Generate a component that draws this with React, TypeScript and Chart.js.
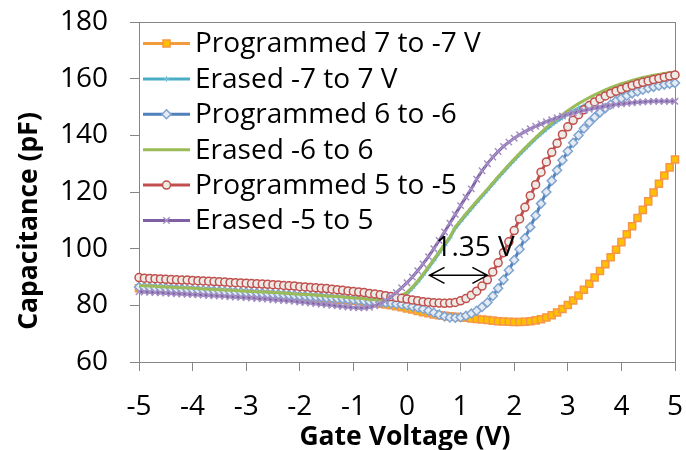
import React, { useEffect, useRef } from 'react';
import { Chart, registerables } from 'chart.js';
import { drawPoint } from 'chart.js/helpers';

Chart.register(...registerables);

// Gate voltage sweep (V)
const VOLTAGE: number[] = [
  -5.0, -4.9, -4.8, -4.7, -4.6, -4.5, -4.4, -4.3, -4.2, -4.1,
  -4.0, -3.9, -3.8, -3.7, -3.6, -3.5, -3.4, -3.3, -3.2, -3.1,
  -3.0, -2.9, -2.8, -2.7, -2.6, -2.5, -2.4, -2.3, -2.2, -2.1,
  -2.0, -1.9, -1.8, -1.7, -1.6, -1.5, -1.4, -1.3, -1.2, -1.1,
  -1.0, -0.9, -0.8, -0.7, -0.6, -0.5, -0.4, -0.3, -0.2, -0.1,
  0.0, 0.1, 0.2, 0.3, 0.4, 0.5, 0.6, 0.7, 0.8, 0.9,
  1.0, 1.1, 1.2, 1.3, 1.4, 1.5, 1.6, 1.7, 1.8, 1.9,
  2.0, 2.1, 2.2, 2.3, 2.4, 2.5, 2.6, 2.7, 2.8, 2.9,
  3.0, 3.1, 3.2, 3.3, 3.4, 3.5, 3.6, 3.7, 3.8, 3.9,
  4.0, 4.1, 4.2, 4.3, 4.4, 4.5, 4.6, 4.7, 4.8, 4.9,
  5.0,
];

// Capacitance (pF)
const PROGRAMMED_7: number[] = [
  86.0, 85.9, 85.8, 85.7, 85.6, 85.5, 85.4, 85.3, 85.2, 85.1,
  85.0, 84.9, 84.8, 84.7, 84.6, 84.5, 84.4, 84.3, 84.2, 84.1,
  84.0, 83.9, 83.8, 83.7, 83.6, 83.5, 83.4, 83.3, 83.2, 83.0,
  82.9, 82.8, 82.7, 82.6, 82.4, 82.3, 82.2, 82.0, 81.9, 81.7,
  81.6, 81.4, 81.2, 81.0, 80.8, 80.6, 80.3, 80.0, 79.7, 79.3,
  78.9, 78.5, 78.0, 77.6, 77.2, 76.8, 76.5, 76.3, 76.1, 76.0,
  75.8, 75.6, 75.4, 75.2, 75.0, 74.8, 74.6, 74.4, 74.3, 74.2,
  74.1, 74.1, 74.2, 74.4, 74.7, 75.1, 75.7, 76.5, 77.5, 78.7,
  80.1, 81.7, 83.5, 85.5, 87.6, 89.8, 92.1, 94.5, 97.0, 99.6,
  102.3, 105.1, 107.9, 110.8, 113.7, 116.7, 119.8, 122.9, 125.8, 128.7,
  131.5,
];

const ERASED_7: number[] = [
  86.6, 86.5, 86.4, 86.3, 86.2, 86.1, 86.0, 85.9, 85.8, 85.7,
  85.6, 85.5, 85.4, 85.3, 85.2, 85.1, 85.0, 84.9, 84.8, 84.7,
  84.6, 84.5, 84.4, 84.3, 84.2, 84.1, 84.0, 83.9, 83.8, 83.6,
  83.5, 83.4, 83.3, 83.2, 83.1, 82.9, 82.8, 82.7, 82.5, 82.4,
  82.2, 82.1, 81.9, 81.8, 81.7, 81.6, 81.6, 81.8, 82.3, 83.1,
  84.2, 86.0, 88.2, 90.6, 93.2, 95.8, 98.5, 101.1, 103.8, 107.2,
  109.6, 111.9, 114.1, 116.3, 118.5, 120.6, 122.8, 125.0, 127.1, 129.2,
  131.2, 133.2, 135.1, 137.0, 138.8, 140.5, 142.1, 143.6, 145.0, 146.3,
  147.5, 148.6, 149.6, 150.5, 151.3, 152.0, 152.7, 153.3, 153.9, 154.4,
  154.9, 155.3, 155.7, 156.1, 156.4, 156.7, 157.0, 157.2, 157.4, 157.6,
  157.8,
];

const PROGRAMMED_6: number[] = [
  86.5, 86.4, 86.3, 86.2, 86.1, 86.0, 85.9, 85.8, 85.7, 85.6,
  85.5, 85.4, 85.3, 85.2, 85.1, 85.0, 84.9, 84.8, 84.7, 84.6,
  84.5, 84.4, 84.3, 84.2, 84.1, 84.0, 83.9, 83.7, 83.6, 83.5,
  83.4, 83.3, 83.1, 83.0, 82.9, 82.7, 82.6, 82.4, 82.3, 82.1,
  82.0, 81.8, 81.6, 81.4, 81.3, 81.1, 80.9, 80.7, 80.5, 80.3,
  80.0, 79.6, 79.2, 78.7, 78.1, 77.4, 76.7, 76.1, 75.7, 75.6,
  75.8, 76.3, 77.1, 78.1, 79.4, 81.0, 83.3, 86.0, 89.0, 92.4,
  96.0, 99.8, 103.7, 107.6, 111.7, 115.9, 120.0, 124.0, 127.7, 131.2,
  134.4, 137.4, 140.0, 142.4, 144.5, 146.4, 148.1, 149.6, 150.9, 152.1,
  153.1, 154.0, 154.8, 155.5, 156.1, 156.6, 157.1, 157.5, 157.9, 158.2,
  158.5,
];

const ERASED_6: number[] = [
  87.0, 86.9, 86.8, 86.7, 86.6, 86.5, 86.4, 86.3, 86.2, 86.1,
  86.0, 85.9, 85.8, 85.7, 85.6, 85.5, 85.4, 85.3, 85.2, 85.1,
  85.0, 84.9, 84.8, 84.7, 84.6, 84.5, 84.4, 84.3, 84.2, 84.0,
  83.9, 83.8, 83.7, 83.6, 83.5, 83.3, 83.2, 83.1, 82.9, 82.8,
  82.6, 82.5, 82.3, 82.1, 82.0, 81.9, 81.9, 82.1, 82.6, 83.4,
  84.6, 86.4, 88.6, 91.0, 93.6, 96.2, 98.9, 101.5, 104.1, 107.6,
  110.0, 112.3, 114.5, 116.7, 118.9, 121.0, 123.2, 125.4, 127.5, 129.6,
  131.6, 133.6, 135.5, 137.4, 139.2, 141.0, 142.7, 144.3, 145.9, 147.3,
  148.7, 150.0, 151.2, 152.3, 153.3, 154.3, 155.2, 156.0, 156.8, 157.5,
  158.2, 158.8, 159.4, 159.9, 160.4, 160.8, 161.2, 161.5, 161.8, 162.1,
  162.3,
];

const PROGRAMMED_5: number[] = [
  89.8, 89.6, 89.5, 89.4, 89.3, 89.2, 89.1, 89.0, 88.9, 88.9,
  88.8, 88.7, 88.6, 88.5, 88.4, 88.3, 88.2, 88.1, 88.0, 87.9,
  87.8, 87.7, 87.6, 87.5, 87.4, 87.3, 87.2, 87.0, 86.9, 86.8,
  86.6, 86.5, 86.3, 86.2, 86.0, 85.9, 85.7, 85.5, 85.3, 85.1,
  84.9, 84.7, 84.5, 84.2, 84.0, 83.7, 83.4, 83.1, 82.8, 82.5,
  82.2, 81.9, 81.6, 81.3, 81.1, 80.9, 80.8, 80.7, 80.8, 81.0,
  81.6, 82.4, 83.6, 85.0, 86.8, 89.0, 91.8, 95.0, 98.6, 102.4,
  106.4, 110.5, 114.6, 118.7, 122.6, 127.0, 130.6, 134.0, 137.2, 140.3,
  143.0, 145.3, 147.3, 149.0, 150.5, 151.8, 152.9, 153.9, 154.8, 155.6,
  156.3, 157.0, 157.6, 158.2, 158.7, 159.2, 159.7, 160.1, 160.5, 160.9,
  161.3,
];

const ERASED_5: number[] = [
  84.8, 84.7, 84.6, 84.5, 84.4, 84.3, 84.2, 84.1, 84.0, 83.9,
  83.8, 83.7, 83.6, 83.5, 83.4, 83.3, 83.2, 83.0, 82.9, 82.8,
  82.7, 82.6, 82.4, 82.3, 82.2, 82.0, 81.9, 81.7, 81.6, 81.4,
  81.2, 81.0, 80.8, 80.6, 80.4, 80.2, 80.0, 79.8, 79.6, 79.4,
  79.2, 79.1, 79.1, 79.3, 79.8, 80.6, 81.7, 83.0, 84.5, 86.2,
  88.0, 90.0, 92.2, 94.6, 97.2, 100.0, 102.9, 105.9, 109.0, 112.1,
  115.2, 118.2, 121.1, 124.5, 127.5, 130.0, 132.3, 134.3, 136.1, 137.6,
  139.0, 140.2, 141.3, 142.3, 143.2, 144.0, 144.8, 145.5, 146.2, 146.8,
  147.4, 147.9, 148.4, 148.8, 149.2, 149.6, 150.0, 150.3, 150.6, 150.9,
  151.1, 151.3, 151.5, 151.7, 151.8, 151.9, 152.0, 152.0, 152.0, 152.0,
  152.0,
];

const SERIES_LABELS: string[] = [
  'Programmed 7 to -7 V',
  'Erased -7 to 7 V',
  'Programmed 6 to -6',
  'Erased -6 to 6',
  'Programmed 5 to -5',
  'Erased -5 to 5',
];

const X_TITLE = 'Gate Voltage (V)';
const Y_TITLE = 'Capacitance (pF)';
const X_MIN = -5;
const X_MAX = 5;
const X_STEP = 1;
const Y_MIN = 60;
const Y_MAX = 180;
const Y_STEP = 20;

// annotation: threshold shift
const SHIFT_TEXT = '1.35 V';
const SHIFT_FROM_V = 0.42;
const SHIFT_TO_V = 1.5;
const SHIFT_AT_C = 90.6;
const SHIFT_TEXT_V = 1.27;
const SHIFT_TEXT_C = 100.4;

const FONT = '"Open Sans", "DejaVu Sans", sans-serif';
const TEXT_SIZE = 28;
const TITLE_SIZE = 26.5;
const AXIS_COLOR = '#868686';

const STYLES = [
  { line: '#F39A3C', bg: '#FFC000', border: '#F79646', style: 'rect', r: 5, bw: 1.5 },
  { line: '#4BACC6', bg: '#4BACC6', border: '#7CC3D6', style: 'cross', r: 3, bw: 1 },
  { line: '#4F81BD', bg: '#E4EBF3', border: '#7FA3CF', style: 'rectRot', r: 4.5, bw: 1.5 },
  { line: '#9BBB59', bg: '#9BBB59', border: '#9BBB59', style: 'circle', r: 0, bw: 0 },
  { line: '#C0504D', bg: '#EEEAE6', border: '#C0504D', style: 'circle', r: 4, bw: 1.5 },
  { line: '#7E60A3', bg: '#A590C6', border: '#A590C6', style: 'crossRot', r: 4.5, bw: 1.5 },
];

const decorPlugin = {
  id: 'decor',
  beforeDatasetsDraw(chart: any) {
    const { ctx, chartArea: a } = chart;
    ctx.save();
    ctx.strokeStyle = AXIS_COLOR;
    ctx.lineWidth = 1;
    ctx.strokeRect(Math.round(a.left) + 0.5, Math.round(a.top) + 0.5, Math.round(a.right - a.left), Math.round(a.bottom - a.top));
    ctx.restore();
  },
  afterDatasetsDraw(chart: any) {
    const { ctx, chartArea: a, scales } = chart;
    const xs = scales.x;
    const ys = scales.y;
    ctx.save();

    // Legend inside the plot area
    ctx.font = `${TEXT_SIZE}px ${FONT}`;
    ctx.textBaseline = 'middle';
    ctx.textAlign = 'left';
    chart.data.datasets.forEach((ds: any, i: number) => {
      const st = STYLES[i];
      const y = a.top + 21.5 + i * 35.4;
      const x0 = a.left + 4;
      const x1 = a.left + 51;
      ctx.strokeStyle = st.line;
      ctx.lineWidth = 3;
      ctx.beginPath();
      ctx.moveTo(x0, y);
      ctx.lineTo(x1, y);
      ctx.stroke();
      if (st.r > 0) {
        ctx.fillStyle = st.bg;
        ctx.strokeStyle = st.border;
        ctx.lineWidth = st.bw;
        drawPoint(ctx, { pointStyle: st.style, radius: st.r, borderWidth: st.bw, rotation: 0 } as any, (x0 + x1) / 2, y);
      }
      ctx.fillStyle = '#000';
      ctx.fillText(ds.label, a.left + 56, y + 1);
    });

    // Shift annotation (double-headed arrow)
    const ax0 = xs.getPixelForValue(SHIFT_FROM_V);
    const ax1 = xs.getPixelForValue(SHIFT_TO_V);
    const ay = ys.getPixelForValue(SHIFT_AT_C);
    ctx.strokeStyle = '#000';
    ctx.lineWidth = 1.5;
    ctx.beginPath();
    ctx.moveTo(ax0, ay);
    ctx.lineTo(ax1, ay);
    ctx.moveTo(ax0 + 15, ay - 8);
    ctx.lineTo(ax0, ay);
    ctx.lineTo(ax0 + 15, ay + 8);
    ctx.moveTo(ax1 - 15, ay - 8);
    ctx.lineTo(ax1, ay);
    ctx.lineTo(ax1 - 15, ay + 8);
    ctx.stroke();
    ctx.fillStyle = '#000';
    ctx.textAlign = 'center';
    ctx.fillText(SHIFT_TEXT, xs.getPixelForValue(SHIFT_TEXT_V), ys.getPixelForValue(SHIFT_TEXT_C));
    ctx.restore();
  },
  afterDraw(chart: any) {
    const { ctx, chartArea: a } = chart;
    ctx.save();
    ctx.fillStyle = '#000';
    ctx.font = `bold ${TITLE_SIZE}px ${FONT}`;
    ctx.textAlign = 'center';
    ctx.textBaseline = 'middle';
    ctx.fillText(X_TITLE, (a.left + a.right) / 2 - 2, 437);
    ctx.translate(29, (a.top + a.bottom) / 2 + 29);
    ctx.rotate(-Math.PI / 2);
    ctx.fillText(Y_TITLE, 0, 0);
    ctx.restore();
  },
};

export default function App() {
  const canvasRef = useRef<HTMLCanvasElement | null>(null);

  useEffect(() => {
    const canvas = canvasRef.current;
    if (!canvas) return;
    const seriesValues = [PROGRAMMED_7, ERASED_7, PROGRAMMED_6, ERASED_6, PROGRAMMED_5, ERASED_5];
    const datasets = seriesValues.map((vals, i) => {
      const st = STYLES[i];
      return {
        label: SERIES_LABELS[i],
        data: VOLTAGE.map((v, k) => ({ x: v, y: vals[k] })),
        borderColor: st.line,
        borderWidth: 3,
        backgroundColor: st.bg,
        pointStyle: st.style,
        pointRadius: st.r,
        pointBackgroundColor: st.bg,
        pointBorderColor: st.border,
        pointBorderWidth: st.bw,
        pointHoverRadius: st.r,
        tension: 0,
        fill: false,
        order: seriesValues.length - 1 - i,
        clip: 8,
      };
    });

    const chart = new Chart(canvas, {
      type: 'line',
      data: { datasets },
      plugins: [decorPlugin],
      options: {
        animation: false,
        responsive: false,
        devicePixelRatio: 1,
        layout: { padding: { top: 22, right: 11, left: 0, bottom: 0 } },
        plugins: { legend: { display: false }, tooltip: { enabled: false } },
        scales: {
          x: {
            type: 'linear',
            min: X_MIN,
            max: X_MAX,
            afterFit: (s: any) => { s.height = 88; s.paddingLeft = 0; s.paddingRight = 0; },
            ticks: { stepSize: X_STEP, color: '#000', font: { family: FONT, size: TEXT_SIZE }, padding: 19, maxRotation: 0, minRotation: 0 },
            grid: { drawOnChartArea: false, drawTicks: true, tickLength: 9, color: AXIS_COLOR },
            border: { display: true, color: AXIS_COLOR, width: 1 },
          },
          y: {
            type: 'linear',
            min: Y_MIN,
            max: Y_MAX,
            afterFit: (s: any) => { s.width = 139; s.paddingTop = 0; s.paddingBottom = 0; },
            ticks: { stepSize: Y_STEP, color: '#000', font: { family: FONT, size: TEXT_SIZE }, padding: 22 },
            grid: { drawOnChartArea: false, drawTicks: true, tickLength: 9, color: AXIS_COLOR },
            border: { display: true, color: AXIS_COLOR, width: 1 },
          },
        },
      },
    });
    return () => chart.destroy();
  }, []);

  return (
    <div style={{ position: 'absolute', left: 0, top: 0, width: 686, height: 450, background: '#fff' }}>
      <canvas ref={canvasRef} width={686} height={450} style={{ width: 686, height: 450 }} />
    </div>
  );
}
